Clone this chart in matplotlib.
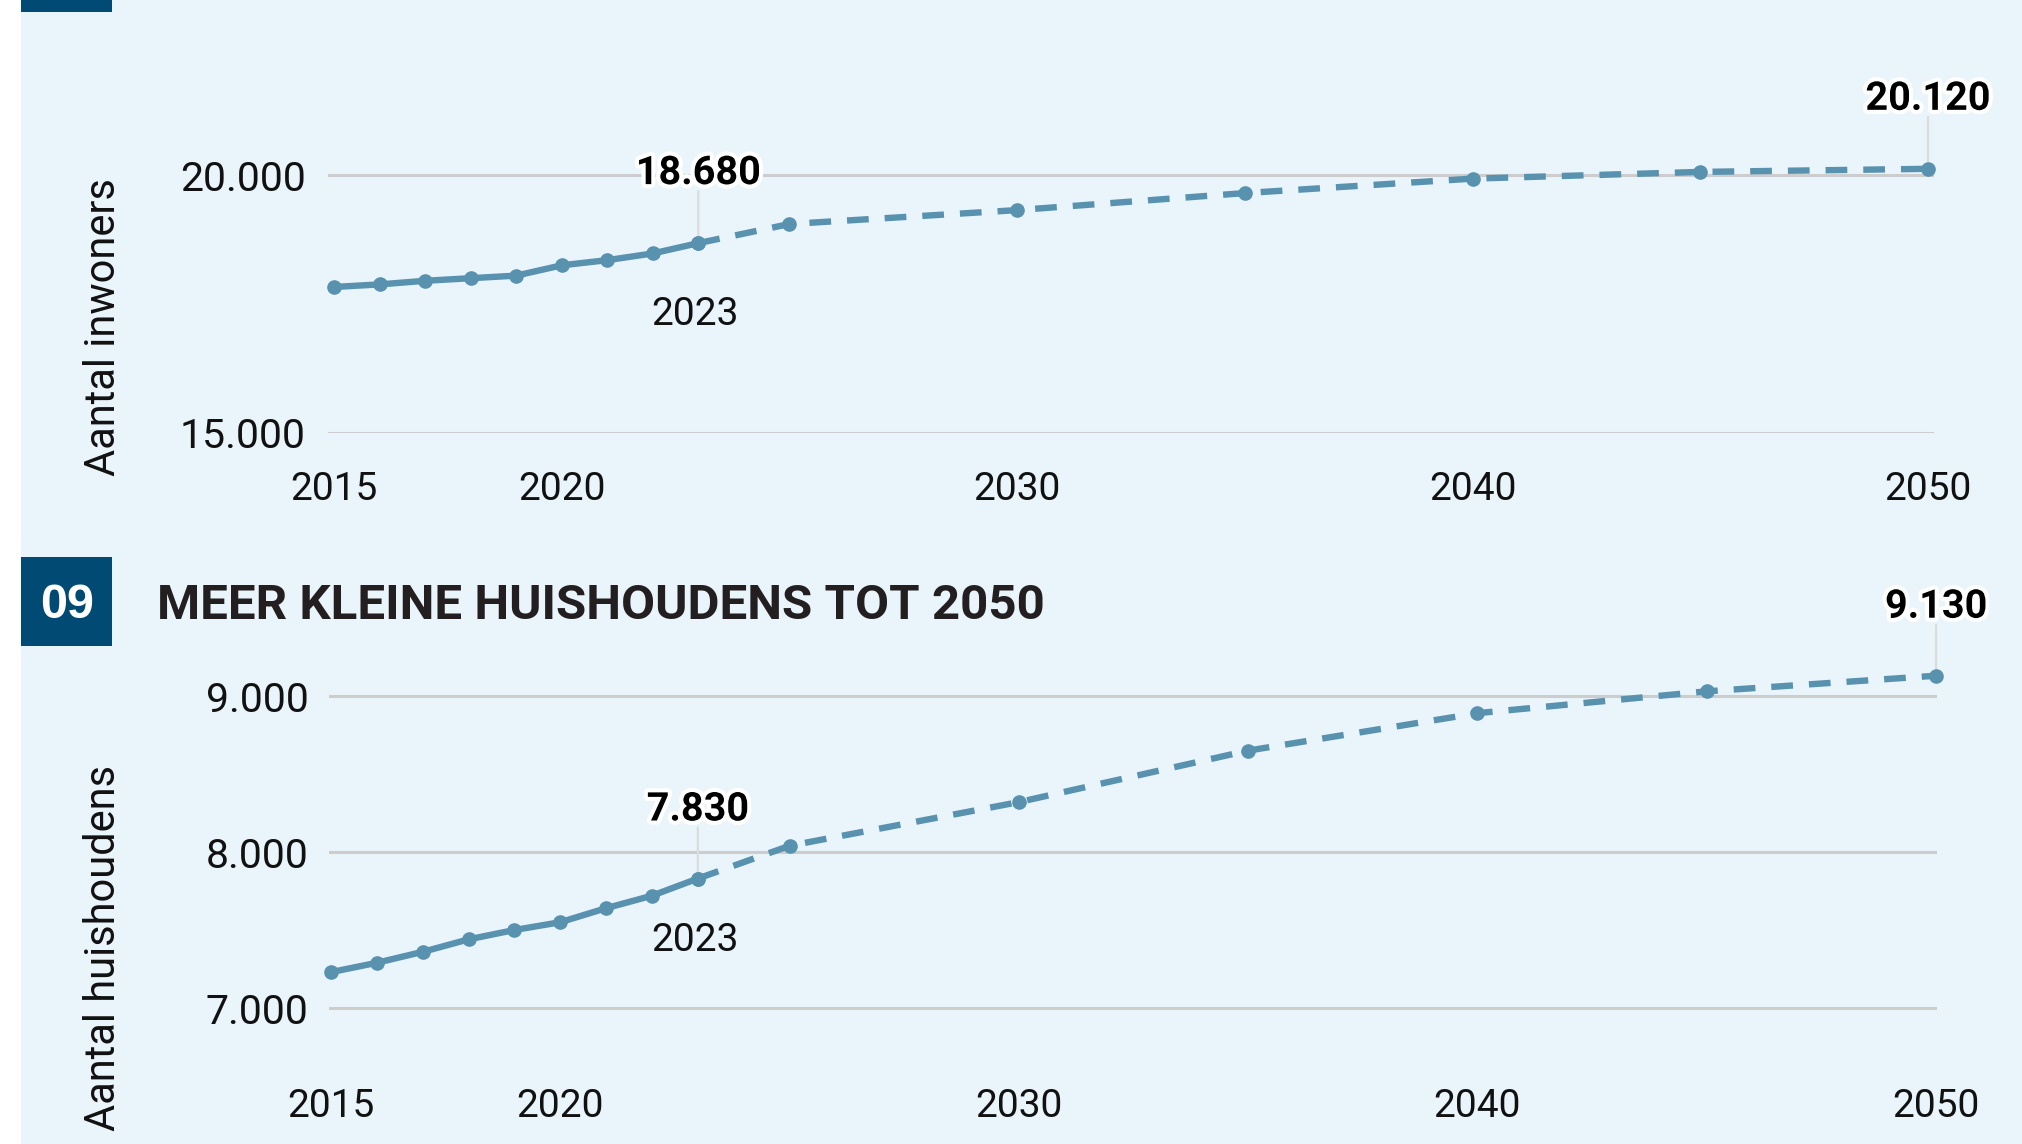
import matplotlib
matplotlib.use("Agg")
import matplotlib.pyplot as plt
import matplotlib.patheffects as pe
from matplotlib.patches import Rectangle
from matplotlib import font_manager

# ---------------- data ----------------
years = [2015, 2016, 2017, 2018, 2019, 2020, 2021, 2022, 2023,
         2025, 2030, 2035, 2040, 2045, 2050]
inwoners = [17830, 17880, 17950, 18000, 18050, 18250, 18350, 18480, 18680,
            19050, 19320, 19650, 19930, 20060, 20120]
huishoudens = [7230, 7290, 7360, 7440, 7500, 7550, 7640, 7720, 7830,
               8040, 8320, 8650, 8890, 9030, 9130]
split_year = 2023
xticks = [2015, 2020, 2030, 2040, 2050]
yticks_top = [15000, 20000]
yticks_bot = [7000, 8000, 9000]
ylabel_top = "Aantal inwoners"
ylabel_bot = "Aantal huishoudens"
title_num = "09"
title_text = "MEER KLEINE HUISHOUDENS TOT 2050"

# ---------------- style ----------------
W, H = 2022, 1144
BG = "#E9F4FB"
BOX = "#004A74"
LINE = "#5892AF"
GRID = "#CDCDCD"
LEAD = "#DCDCDC"
TXT = "#111111"

avail = {f.name for f in font_manager.fontManager.ttflist}
BASE = "Roboto" if "Roboto" in avail else "DejaVu Sans"
NARROW = "Liberation Sans Narrow" if "Liberation Sans Narrow" in avail else BASE
plt.rcParams["font.family"] = [BASE, "DejaVu Sans"]

fig = plt.figure(figsize=(W / 100, H / 100), dpi=100, facecolor="white")

# background panel and header boxes
fig.patches.append(Rectangle((21 / W, 0), 1 - 21 / W, 1, transform=fig.transFigure,
                             facecolor=BG, edgecolor="none", zorder=-10))
fig.patches.append(Rectangle((21 / W, 1 - 12 / H), 91 / W, 12 / H, transform=fig.transFigure,
                             facecolor=BOX, edgecolor="none", zorder=-5))
fig.patches.append(Rectangle((21 / W, 1 - 646 / H), 91 / W, 89 / H, transform=fig.transFigure,
                             facecolor=BOX, edgecolor="none", zorder=-5))
fig.text(67 / W, 1 - 606 / H, title_num, color="white", fontsize=35, fontweight="bold",
         family=["Liberation Sans", "DejaVu Sans"], ha="center", va="center")
fig.text(157 / W, 1 - 606 / H, title_text, color="#231F20", fontsize=35.5, fontweight="bold",
         family=[NARROW, "DejaVu Sans"], ha="left", va="center")


def px_axes(left, top, right, bottom):
    return fig.add_axes([left / W, 1 - bottom / H, (right - left) / W, (bottom - top) / H])


def fmt(v):
    return f"{v:,.0f}".replace(",", ".")


def draw(ax, values, yticks, xlim, ylim, xpad, ypad, lab_off_up, lab_off_down):
    ax.set_facecolor("none")
    for s in ax.spines.values():
        s.set_visible(False)
    ax.set_xlim(*xlim)
    ax.set_ylim(*ylim)
    ax.set_xticks(xticks)
    ax.set_xticklabels([str(x) for x in xticks])
    ax.set_yticks(yticks)
    ax.set_yticklabels([fmt(v) for v in yticks])
    ax.tick_params(axis="both", length=0, colors=TXT)
    ax.tick_params(axis="x", pad=xpad, labelsize=28)
    ax.tick_params(axis="y", pad=ypad, labelsize=29.5)
    ax.grid(axis="y", color=GRID, linewidth=2.2, zorder=0)
    ax.grid(axis="x", visible=False)
    ax.set_axisbelow(True)

    i = years.index(split_year)
    ax.plot(years[:i + 1], values[:i + 1], color=LINE, linewidth=4.6, marker="o",
            markersize=9.5, solid_capstyle="butt", zorder=3, clip_on=False)
    ax.plot(years[i:], values[i:], color=LINE, linewidth=4.6, marker="o", markersize=9.5,
            linestyle=(0, (3.4, 2.5)), dash_capstyle="butt", zorder=3, clip_on=False)

    stroke = [pe.withStroke(linewidth=6, foreground="white")]
    for yr in (split_year, years[-1]):
        v = values[years.index(yr)]
        # leader line
        ax.annotate("", xy=(yr, v), xycoords="data",
                    xytext=(0, lab_off_up - 18), textcoords=("offset pixels"),
                    arrowprops=dict(arrowstyle="-", color=LEAD, lw=1.6,
                                    shrinkA=0, shrinkB=0), zorder=2)
        ax.annotate(fmt(v), xy=(yr, v), xytext=(0, lab_off_up), textcoords="offset pixels",
                    ha="center", va="center", fontsize=28.5, fontweight="bold", color="black",
                    path_effects=stroke, zorder=5, annotation_clip=False)
    v = values[i]
    ax.annotate(str(split_year), xy=(split_year, v), xytext=(-3, -lab_off_down),
                textcoords="offset pixels", ha="center", va="center", fontsize=28,
                color=TXT, zorder=5, annotation_clip=False)


# top chart
ax1 = px_axes(328, 60, 1934, 433)
draw(ax1, inwoners, yticks_top, (2014.868, 2050.132), (15000, 22229),
     xpad=27.5, ypad=16, lab_off_up=70, lab_off_down=71)

# bottom chart
ax2 = px_axes(329, 640, 1937, 1070)
draw(ax2, huishoudens, yticks_bot, (2014.956, 2050.02), (6602.6, 9359),
     xpad=13, ypad=14.5, lab_off_up=69, lab_off_down=62)

fig.text(104 / W, 1 - 327 / H, ylabel_top, rotation=90, fontsize=30, color=TXT,
         ha="center", va="center")
fig.text(104 / W, 1 - 948 / H, ylabel_bot, rotation=90, fontsize=30, color=TXT,
         ha="center", va="center")

fig.savefig("out.png", dpi=100, facecolor="white")
